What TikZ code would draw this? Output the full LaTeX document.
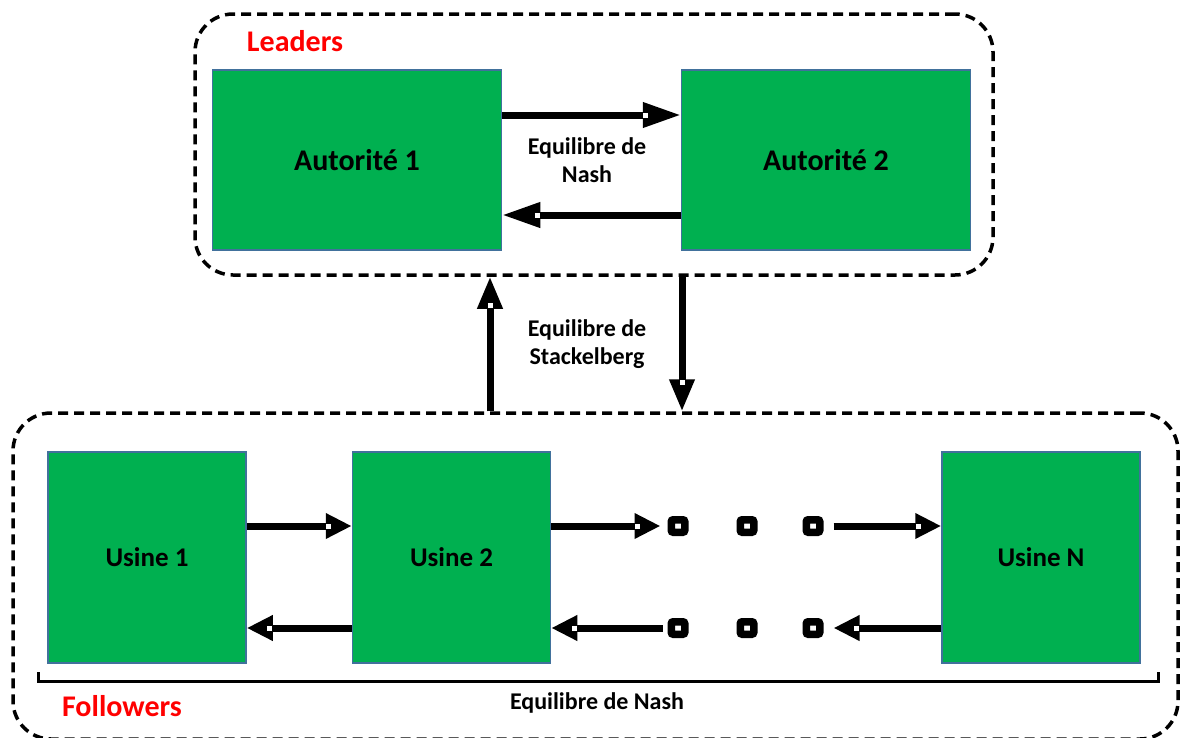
\documentclass[tikz,border=0pt]{standalone}
\usepackage{fontspec}
\setmainfont{Carlito}
\usetikzlibrary{arrows.meta,calc}
\definecolor{boxgreen}{HTML}{00B050}
\definecolor{boxedge}{HTML}{41719C}
\tikzset{
  player/.style={draw=boxedge, line width=1.5pt, fill=boxgreen, inner sep=0pt},
  authority/.style={player, minimum width=289pt, minimum height=180pt,
    font=\bfseries\fontsize{30}{35}\selectfont},
  plant/.style={player, minimum width=198pt, minimum height=211pt,
    font=\bfseries\fontsize{27}{32}\selectfont},
  group/.style={draw=black, line width=3.5pt, dash pattern=on 10pt off 6pt,
    rounded corners=38pt, inner sep=0pt},
  grouplabel/.style={text=red, font=\bfseries\fontsize{30}{35}\selectfont},
  eqlabel/.style={align=center, font=\bfseries\fontsize{24}{28}\selectfont},
  flow/.style={draw=black, line width=7pt},
  ellipsisdot/.style={draw=black, fill=white, line width=7.5pt,
    minimum width=13.5pt, minimum height=12.5pt, inner sep=0pt, rounded corners=2pt},
}
% thick arrow with the small light notch at the base of its head
% #1 start, #2 end, #3 head length (pt)
\newcommand\flowarrow[3]{%
  \draw[flow, -{Triangle[length=#3pt, width=24pt]}] #1 -- #2;
  \fill[white] ($#2!#3pt-3pt!#1$) +(-2.5pt,-2.5pt) rectangle +(2.5pt,2.5pt);
}
\begin{document}
\begin{tikzpicture}[x=1pt, y=-1pt]
  \useasboundingbox (0,0) rectangle (1181,737);

  % dashed groups
  \node[group, minimum width=798pt, minimum height=261pt] (lead) at (594,144.5) {};
  \node[group, minimum width=1165pt, minimum height=326pt] (foll) at (595.5,576) {};
  \node[grouplabel] (leadlbl) at (295,41) {Leaders};
  \node[grouplabel] (folllbl) at (122,706) {Followers};

  % leaders
  \node[authority] (a1) at (357,160) {Autorité 1};
  \node[authority] (a2) at (826,160) {Autorité 2};
  \node[eqlabel] (nashtop) at (587,160) {Equilibre de\\Nash};

  % followers
  \node[plant] (u1) at (147,557.5) {Usine 1};
  \node[plant] (u2) at (451.5,557.5) {Usine 2};
  \node[plant] (uN) at (1041,557.5) {Usine N};

  \node[ellipsisdot] (d1) at (678,526) {};
  \node[ellipsisdot] (d2) at (747,526) {};
  \node[ellipsisdot] (d3) at (813,526) {};
  \node[ellipsisdot] (e1) at (678,628) {};
  \node[ellipsisdot] (e2) at (747,628) {};
  \node[ellipsisdot] (e3) at (813,628) {};

  % Stackelberg link between the two levels
  \coordinate (upx) at (490,0);
  \coordinate (dnx) at (682,0);
  \node[eqlabel] (stack) at (587,344) {Equilibre de\\Stackelberg};

  % Nash between leaders
  \flowarrow{([yshift=45pt]a1.east)}{([yshift=45pt]a2.west)}{38}
  \flowarrow{([yshift=-55pt]a2.west)}{([yshift=-55pt]a1.east)}{38}

  % Stackelberg
  \flowarrow{(foll.north -| upx)}{(lead.south -| upx)}{32}
  \flowarrow{(lead.south -| dnx)}{(foll.north -| dnx)}{32}

  % Nash between followers
  \flowarrow{(u1.east |- d1)}{(u2.west |- d1)}{26}
  \flowarrow{(u2.east |- d1)}{([xshift=-7pt]d1.west)}{26}
  \flowarrow{([xshift=10pt]d3.east)}{(uN.west |- d3)}{26}
  \flowarrow{(uN.west |- e3)}{([xshift=10pt]e3.east)}{26}
  \flowarrow{([xshift=-5pt]e1.west)}{(u2.east |- e1)}{26}
  \flowarrow{(u2.west |- e1)}{(u1.east |- e1)}{26}

  % brace under the followers
  \draw[line width=3pt] (38,672) |- (1158,681) -- (1158,672);
  \node[eqlabel] (nashbot) at (597,703) {Equilibre de Nash};
\end{tikzpicture}
\end{document}
